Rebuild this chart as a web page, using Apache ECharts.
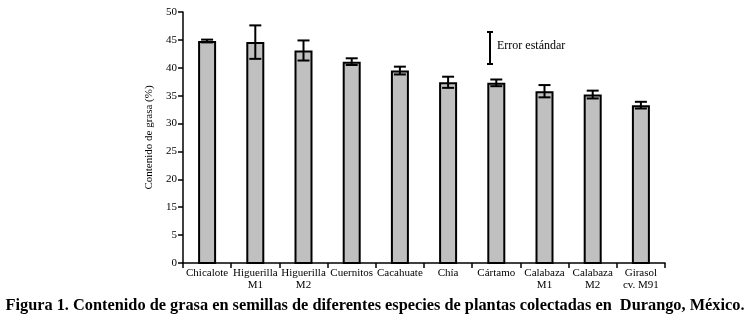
<!DOCTYPE html>
<html>
<head>
<meta charset="utf-8">
<script src="https://cdn.jsdelivr.net/npm/echarts@6/dist/echarts.min.js"></script>
<style>
  html, body { margin: 0; padding: 0; background: #fff; }
  #chart { width: 749px; height: 323px; }
</style>
</head>
<body>
<div id="chart"></div>
<script>
// species along the x axis
var species = ["Chicalote", "Higuerilla\nM1", "Higuerilla\nM2", "Cuernitos", "Cacahuate",
  "Chía", "Cártamo", "Calabaza\nM1", "Calabaza\nM2", "Girasol\ncv. M91"];
// fat content (%) and standard error
var fatContent = [44.8, 44.6, 43.1, 41.1, 39.5, 37.4, 37.3, 35.8, 35.2, 33.3];
var stdError = [0.25, 3.0, 1.8, 0.6, 0.7, 1.0, 0.6, 1.1, 0.7, 0.6];
// y tick labels as printed in the figure (the axis starts at 5, labelled "0")
var yTicks = [5, 10, 15, 20, 25, 30, 35, 40, 45, 50];
var yTickLabels = ["0", "5", "15", "20", "25", "30", "35", "40", "45", "50"];

var serif = "Liberation Serif";
var chart = echarts.init(document.getElementById("chart"));

var errData = fatContent.map(function(v, i) { return [i, v - stdError[i], v + stdError[i]]; });

chart.setOption({
  animation: false,
  grid: { left: 183, right: 84, top: 12, bottom: 60 },
  xAxis: {
    type: "category",
    data: species,
    axisLine: { lineStyle: { color: "#000", width: 1.5 } },
    axisTick: { show: true, length: 5, lineStyle: { color: "#000", width: 1.5 } },
    axisLabel: { interval: 0, color: "#000", fontFamily: serif, fontSize: 11, lineHeight: 12, margin: 4 }
  },
  yAxis: {
    type: "value",
    min: 5, max: 50, interval: 5,
    name: "Contenido de grasa (%)",
    nameLocation: "middle",
    nameGap: 27,
    nameTextStyle: { color: "#000", fontFamily: serif, fontSize: 11 },
    splitLine: { show: false },
    axisLine: { show: true, lineStyle: { color: "#000", width: 1.5 } },
    axisTick: { show: true, length: 5, lineStyle: { color: "#000", width: 1.5 } },
    axisLabel: {
      color: "#000", fontFamily: serif, fontSize: 11, margin: 6,
      formatter: function(v) {
        var k = yTicks.indexOf(v);
        return k >= 0 ? yTickLabels[k] : "";
      }
    }
  },
  series: [{
    type: "bar",
    data: fatContent,
    barWidth: 18,
    itemStyle: { color: "#c0c0c0", borderColor: "#000", borderWidth: 2 }
  }, {
    type: "custom",
    data: errData,
    z: 10,
    renderItem: function(params, api) {
      var lo = api.coord([api.value(0), api.value(1)]);
      var hi = api.coord([api.value(0), api.value(2)]);
      var h = 6;
      var st = { stroke: "#000", lineWidth: 2 };
      return {
        type: "group",
        children: [
          { type: "line", shape: { x1: hi[0], y1: hi[1], x2: lo[0], y2: lo[1] }, style: st },
          { type: "line", shape: { x1: hi[0] - h, y1: hi[1], x2: hi[0] + h, y2: hi[1] }, style: st },
          { type: "line", shape: { x1: lo[0] - h, y1: lo[1], x2: lo[0] + h, y2: lo[1] }, style: st }
        ]
      };
    }
  }],
  graphic: [
    { type: "line", shape: { x1: 490, y1: 32, x2: 490, y2: 64 }, style: { stroke: "#000", lineWidth: 2 } },
    { type: "line", shape: { x1: 487, y1: 32, x2: 493, y2: 32 }, style: { stroke: "#000", lineWidth: 2 } },
    { type: "line", shape: { x1: 487, y1: 64, x2: 493, y2: 64 }, style: { stroke: "#000", lineWidth: 2 } },
    { type: "text", left: 497, top: 40, style: { text: "Error estándar", fill: "#000", font: "12px " + serif } },
    {
      type: "text", x: 375, y: 306, scaleX: 0.96,
      style: {
        text: "Figura 1. Contenido de grasa en semillas de diferentes especies de plantas colectadas en  Durango, México.",
        fill: "#000", font: "bold 17px " + serif, align: "center", verticalAlign: "middle"
      }
    }
  ]
});
</script>
</body>
</html>
